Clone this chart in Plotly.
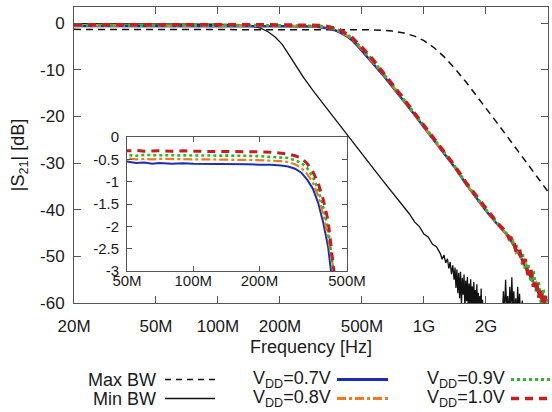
import math
import plotly.graph_objects as go

# ---------------- data (frequencies in MHz, magnitudes in dB) ----------------
F_MAX = [20, 50, 100, 200, 300, 400, 500, 560, 630, 700, 800, 900, 1000, 1120,
         1250, 1400, 1600, 1800, 2000, 2250, 2500, 2800, 3150, 3550, 4000]
S_MAX = [-1.30, -1.30, -1.30, -1.30, -1.31, -1.33, -1.35, -1.40, -1.50, -1.67,
         -2.08, -2.75, -3.72, -5.24, -7.14, -9.5, -12.6, -15.5, -18.2, -21.2,
         -23.9, -26.9, -29.9, -33.0, -36.1]

F_MIN = [20, 40, 70, 100, 125, 145, 160, 175, 190, 205, 220, 240, 260, 290, 320,
         360, 400, 450, 500, 560, 630, 700, 800, 850, 900, 950, 1000, 1050, 1100,
         1150, 1200, 1225, 1250, 1275, 1300, 1320, 1340, 1360, 1380, 1400, 1415,
         1430, 1445, 1460, 1475, 1490, 1505, 1520, 1535, 1550, 1565, 1580, 1595,
         1610, 1625, 1640, 1655, 1670, 1685, 1700, 1715, 1730, 1745, 1760, 1775,
         1790, 1805, 1820, 1835, 1850, 1865, 1880, 1895, 1910, 1925, 1940, 1960,
         1980, 2000, 2050, 2100, 2150, 2200, 2250, 2300, 2350, 2400, 2430, 2460,
         2490, 2520, 2550, 2580, 2610, 2640, 2670, 2700, 2730, 2760, 2790, 2820,
         2850, 2880, 2910, 2950, 3000, 3050, 3100, 3150, 3300, 3600, 4000]
S_MIN = [-0.05, -0.1, -0.1, -0.2, -0.35, -0.6, -1.0, -1.8, -3.0, -4.5, -6.6, -9.2,
         -11.6, -14.5, -16.9, -19.8, -22.5, -25.4, -28.0, -30.8, -33.7, -36.3,
         -39.6, -40.9, -42.6, -43.6, -45.2, -45.9, -47.4, -47.9,
         -49.4, -50.6, -49.7, -51.4, -50.5, -52.6, -51.2, -53.8, -51.9, -55.0,
         -52.4, -56.8, -52.8, -57.9, -53.5, -59.0, -53.3, -60.5, -54.6, -58.2,
         -53.9, -61.5, -55.2, -59.6, -54.4, -62.0, -55.8, -60.3, -54.9, -61.2,
         -56.4, -62.5, -55.5, -60.8, -57.2, -63.0, -56.0, -61.8, -57.8, -64.0,
         -58.5, -62.2, -56.9, -63.5, -59.3, -64.5, -60.1, -63.0, -61.0, -64.0,
         -62.5, -65.0, -61.8, -64.0, -62.0, -60.5, -63.0, -57.5,
         -62.5, -55.0, -61.0, -58.5, -63.0, -56.5, -62.0, -54.5, -61.5, -57.5,
         -63.5, -59.0, -64.0, -56.5, -62.5, -58.0, -64.0, -59.5, -63.0, -60.5,
         -65.0, -66.0, -65.0, -66.0]

F_VDD = [20, 25, 30, 35, 40, 45, 50, 55, 60, 65, 70, 80, 90, 100, 115, 130, 150,
         175, 200, 225, 250, 270, 290, 310, 330, 350, 370, 390, 410, 430, 450,
         475, 500, 560, 630, 700, 800, 900, 1000, 1120, 1250, 1400, 1600, 1800,
         2000, 2250, 2500, 2600, 2700, 2800, 2900, 3000, 3100, 3200, 3300, 3400,
         3500, 3600, 3700, 3800, 3900, 4000]
S_07 = [-0.56, -0.55, -0.57, -0.56, -0.58, -0.57, -0.55, -0.58, -0.57, -0.60,
        -0.58, -0.60, -0.59, -0.60, -0.60, -0.61, -0.61, -0.61, -0.62, -0.62,
        -0.64, -0.66, -0.71, -0.80, -0.96, -1.16, -1.48, -1.92, -2.45, -3.05,
        -3.7, -4.8, -6.0, -8.4, -11.0, -13.5, -16.7, -19.6, -22.3, -25.2, -27.9,
        -30.7, -34.5, -37.5, -40.2, -42.9, -45.2, -46.0, -47.3, -48.4, -49.6,
        -50.8, -52.0, -53.2, -54.4, -55.6, -56.8, -57.9, -59.0, -60.1, -61.0,
        -62.0]
S_08 = [-0.48, -0.50, -0.49, -0.51, -0.49, -0.50, -0.48, -0.50, -0.49, -0.50,
        -0.49, -0.50, -0.50, -0.50, -0.50, -0.51, -0.51, -0.51, -0.52, -0.52,
        -0.54, -0.56, -0.61, -0.69, -0.83, -1.03, -1.32, -1.74, -2.25, -2.85,
        -3.5, -4.5, -5.6, -8.0, -10.7, -13.3, -16.6, -19.5, -22.2, -25.1, -27.8,
        -30.6, -34.4, -37.4, -40.1, -42.8, -45.1, -46.6, -46.5, -49.2, -48.6,
        -51.8, -51.0, -53.9, -53.2, -56.0, -55.6, -58.2, -57.8, -60.3, -59.5,
        -61.0]
S_09 = [-0.39, -0.41, -0.40, -0.42, -0.40, -0.41, -0.40, -0.42, -0.40, -0.41,
        -0.41, -0.41, -0.41, -0.42, -0.42, -0.42, -0.42, -0.42, -0.43, -0.44,
        -0.45, -0.47, -0.52, -0.58, -0.70, -0.90, -1.18, -1.57, -2.05, -2.65,
        -3.3, -4.3, -5.4, -7.8, -10.5, -13.1, -16.4, -19.4, -22.1, -25.0, -27.7,
        -30.5, -34.3, -37.3, -40.0, -42.7, -45.0, -45.5, -47.2, -47.5, -50.0,
        -49.2, -52.8, -51.5, -55.5, -53.0, -57.5, -55.5, -60.0, -57.0, -61.0,
        -59.0]
S_10 = [-0.31, -0.29, -0.32, -0.30, -0.31, -0.30, -0.31, -0.30, -0.32, -0.31,
        -0.31, -0.32, -0.31, -0.32, -0.32, -0.32, -0.32, -0.33, -0.33, -0.34,
        -0.36, -0.38, -0.42, -0.47, -0.60, -0.78, -1.04, -1.40, -1.87, -2.50,
        -3.15, -4.1, -5.2, -7.6, -10.4, -13.0, -16.3, -19.3, -22.0, -24.9, -27.6,
        -30.4, -34.2, -37.2, -39.9, -42.6, -44.8, -46.2, -46.0, -48.9, -48.2,
        -51.5, -50.6, -54.0, -52.8, -56.5, -55.0, -58.8, -57.0, -60.5, -58.5,
        -61.5]

X_TICKS = [20, 50, 100, 200, 500, 1000, 2000]
X_TICKTEXT = ["20M", "50M", "100M", "200M", "500M", "1G", "2G"]
Y_TICKS = [0, -10, -20, -30, -40, -50, -60]
Y_TICKTEXT = ["0", "-10", "-20", "-30", "-40", "-50", "-60"]
XI_TICKS = [50, 100, 200, 500]
XI_TICKTEXT = ["50M", "100M", "200M", "500M"]
YI_TICKS = [0, -0.5, -1, -1.5, -2, -2.5, -3]
YI_TICKTEXT = ["0", "-0.5", "-1", "-1.5", "-2", "-2.5", "-3"]

LEGEND_LABELS = ["Max BW", "Min BW", "V<sub>DD</sub>=0.7V", "V<sub>DD</sub>=0.8V",
                 "V<sub>DD</sub>=0.9V", "V<sub>DD</sub>=1.0V"]

# ---------------- styles ----------------
BLUE = "#1c2fb0"
ORANGE = "#f07a22"
GREEN = "#2fb52f"
RED = "#c41e1e"
FONT = "Liberation Sans, Arial, sans-serif"
TXT = "#1a1a1a"
AX = "#555555"

hz = lambda arr: [v * 1e6 for v in arr]

fig = go.Figure()

vdd_styles = [
    (S_07, BLUE, "solid", 2.5, 2.0),
    (S_08, ORANGE, "dashdot", 2.5, 2.2),
    (S_09, GREEN, "dot", 3.0, 2.6),
    (S_10, RED, "8px,6px", 3.6, 3.0),
]

# main plot
fig.add_trace(go.Scatter(x=hz(F_MAX), y=S_MAX, mode="lines",
                         line=dict(color="#111111", width=1.5, dash="7px,5px")))
fig.add_trace(go.Scatter(x=hz(F_MIN), y=S_MIN, mode="lines",
                         line=dict(color="#111111", width=1.3)))
for s, c, d, w, wi in vdd_styles:
    fig.add_trace(go.Scatter(x=hz(F_VDD), y=s, mode="lines",
                             line=dict(color=c, width=w, dash=d)))
# inset
for s, c, d, w, wi in vdd_styles:
    fig.add_trace(go.Scatter(x=hz(F_VDD), y=s, mode="lines", xaxis="x2", yaxis="y2",
                             line=dict(color=c, width=wi, dash=d)))

# ---------------- layout ----------------
L, R, T, B = 74, 548, 7, 303
W, H = 552, 412
px = lambda p: (p - L) / (R - L)
py = lambda p: (B - p) / (B - T)

axis_common = dict(showline=True, linecolor=AX, linewidth=1, mirror="ticks",
                   ticks="inside", tickcolor=AX, showgrid=False, zeroline=False,
                   automargin=False)

fig.update_layout(
    width=W, height=H, showlegend=False,
    margin=dict(l=L, r=W - R, t=T, b=H - B, autoexpand=False),
    paper_bgcolor="white", plot_bgcolor="white",
    font=dict(family=FONT, color=TXT, size=17),
    xaxis=dict(type="log", range=[math.log10(20e6), math.log10(4e9)],
               tickvals=hz(X_TICKS), ticktext=X_TICKTEXT, ticklen=7,
               tickfont=dict(size=17), domain=[0, 1], ticklabelstandoff=8,
               title=dict(text="Frequency [Hz]", font=dict(size=18), standoff=4),
               **axis_common),
    yaxis=dict(range=[-60, 3.5], tickvals=Y_TICKS, ticktext=Y_TICKTEXT, ticklen=7,
               tickfont=dict(size=17), domain=[0, 1], ticklabelstandoff=5,
               title=dict(text="|S<sub>21</sub>| [dB]", font=dict(size=18), standoff=10),
               **axis_common),
    xaxis2=dict(type="log", range=[math.log10(50e6), math.log10(500e6)],
                tickvals=hz(XI_TICKS), ticktext=XI_TICKTEXT, ticklen=5,
                tickfont=dict(size=15), anchor="y2", ticklabelstandoff=-4,
                domain=[px(127), px(347)], **axis_common),
    yaxis2=dict(range=[-3, 0], tickvals=YI_TICKS, ticktext=YI_TICKTEXT, ticklen=5,
                tickfont=dict(size=15), anchor="x2", ticklabelstandoff=4,
                domain=[py(271), py(137)], **axis_common),
)

# ---------------- legend (drawn by hand) ----------------
row_y = [379.5, 398.5]
legend_items = [
    # label, text right edge px, line x0, x1, row, color, dash, width
    (LEGEND_LABELS[0], 158, 165, 215, 0, "#111111", "6px,5px", 1.3),
    (LEGEND_LABELS[1], 158, 165, 215, 1, "#111111", "solid", 1.3),
    (LEGEND_LABELS[2], 333, 337, 388, 0, BLUE, "solid", 3),
    (LEGEND_LABELS[3], 333, 337, 388, 1, ORANGE, "dashdot", 3),
    (LEGEND_LABELS[4], 507, 511, 556, 0, GREEN, "dot", 3),
    (LEGEND_LABELS[5], 507, 511, 556, 1, RED, "8px,6px", 3.5),
]
for lab, xr, x0, x1, r, c, d, w in legend_items:
    yy = py(row_y[r])
    fig.add_annotation(x=px(xr), y=yy, xref="paper", yref="paper", text=lab,
                       showarrow=False, xanchor="right", yanchor="middle",
                       font=dict(size=18, family=FONT, color=TXT))
    fig.add_shape(type="line", xref="paper", yref="paper", x0=px(x0), x1=px(x1),
                  y0=yy, y1=yy, line=dict(color=c, width=w, dash=d))

fig.write_html("out.html", config={"displayModeBar": False},
               post_script="document.body.style.margin='0px';")
